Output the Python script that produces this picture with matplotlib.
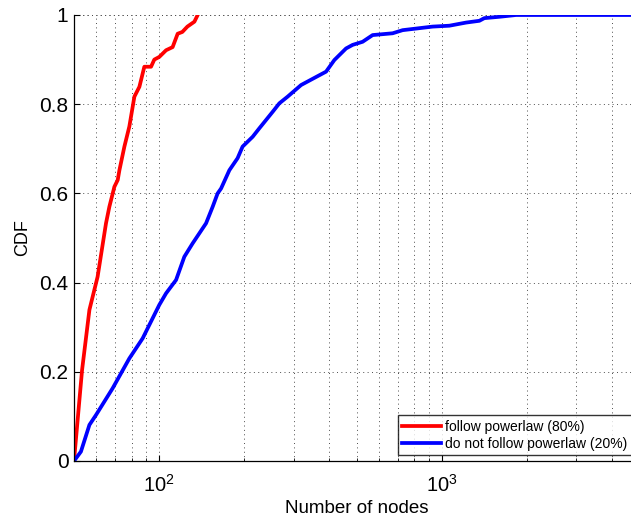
import matplotlib
matplotlib.use("Agg")
import matplotlib.pyplot as plt
from matplotlib.ticker import LogLocator, NullFormatter, FixedLocator

plt.rcParams['font.family'] = ['Liberation Sans', 'DejaVu Sans']
plt.rcParams['mathtext.fontset'] = 'custom'
plt.rcParams['mathtext.rm'] = 'Liberation Sans'
plt.rcParams['mathtext.it'] = 'Liberation Sans'

# Data (number of nodes, CDF)
red_x = [50, 53.4, 56.7, 60.6, 64.9, 66.7, 69.5, 71.4, 72.4, 75.4, 78.5, 81.8,
         85.2, 88.7, 93.7, 96.2, 100.2, 105.9, 111.7, 116.4, 120.9, 126.0, 133.4, 137]
red_y = [0.0, 0.204, 0.339, 0.413, 0.533, 0.570, 0.615, 0.630, 0.652, 0.705, 0.750, 0.817,
         0.839, 0.884, 0.884, 0.900, 0.906, 0.921, 0.928, 0.958, 0.962, 0.974, 0.985, 1.0]

blue_x = [50, 52.9, 56.7, 59.8, 68.5, 78.5, 87.5, 100.2, 105.9, 114.9, 122.9, 131.5,
          146.7, 154.8, 161.2, 165.8, 177.4, 189.7, 197.6, 214.5, 226.5, 252.5, 266.6,
          285.3, 318.3, 359.6, 390.2, 417.4, 459.2, 484.5, 525.7, 570.3, 618.7, 671.2,
          728.2, 823.1, 930.0, 1066, 1221, 1361, 1418, 1602, 1835, 5000]
blue_y = [0.0, 0.021, 0.081, 0.103, 0.163, 0.230, 0.275, 0.350, 0.376, 0.406, 0.458, 0.488,
          0.533, 0.570, 0.600, 0.611, 0.652, 0.679, 0.705, 0.727, 0.746, 0.783, 0.802,
          0.817, 0.843, 0.861, 0.873, 0.899, 0.925, 0.933, 0.940, 0.955, 0.957, 0.959,
          0.966, 0.970, 0.974, 0.976, 0.983, 0.987, 0.993, 0.996, 1.0, 1.0]

labels = ['follow powerlaw (80%)', 'do not follow powerlaw (20%)']
yticks = [0, 0.2, 0.4, 0.6, 0.8, 1]
yticklabels = ['0', '0.2', '0.4', '0.6', '0.8', '1']

W, H = 631, 518
fig = plt.figure(figsize=(W / 100, H / 100), dpi=100)
ax = fig.add_axes([74 / W, (H - 461) / H, (639 - 74) / W, (461 - 15) / H])

ax.plot(red_x, red_y, color=(1, 0, 0), lw=2.7, label=labels[0], solid_joinstyle='round')
ax.plot(blue_x, blue_y, color=(0, 0, 1), lw=2.7, label=labels[1], solid_joinstyle='round')

ax.set_xscale('log')
ax.set_xlim(50, 5000)
ax.set_ylim(0, 1)
ax.xaxis.set_major_locator(FixedLocator([100, 1000]))
ax.xaxis.set_minor_locator(LogLocator(base=10, subs=range(2, 10)))
ax.xaxis.set_minor_formatter(NullFormatter())
ax.set_yticks(yticks)
ax.set_yticklabels(yticklabels)

ax.tick_params(axis='both', which='major', direction='in', length=4.5, width=0.8,
               top=False, right=False)
ax.tick_params(axis='x', which='minor', direction='in', length=2.5, width=0.6, top=False)
ax.tick_params(axis='y', labelsize=15, pad=4)
ax.tick_params(axis='x', labelsize=14.5, pad=9)

for s in ['top', 'right']:
    ax.spines[s].set_visible(False)
for s in ['left', 'bottom']:
    ax.spines[s].set_linewidth(0.9)

gkw = dict(color='0.3', linestyle=(0, (1, 3.5)), linewidth=0.7)
ax.grid(True, which='major', axis='both', **gkw)
ax.grid(True, which='minor', axis='x', **gkw)
ax.axhline(1.0, **gkw, zorder=0)

ax.set_xlabel('Number of nodes', fontsize=13.5, labelpad=3)
ax.set_ylabel('CDF', fontsize=13, labelpad=6)

leg = ax.legend(loc='lower left', bbox_to_anchor=(398 / W, (H - 455) / H),
                bbox_transform=fig.transFigure, fontsize=10, frameon=True,
                fancybox=False, edgecolor='black', borderpad=0.32,
                handlelength=2.8, handletextpad=0.3, labelspacing=0.2,
                borderaxespad=0)
leg.get_frame().set_linewidth(1.0)
for l in leg.get_lines():
    l.set_linewidth(2.7)

fig.savefig('out.png', dpi=100)
